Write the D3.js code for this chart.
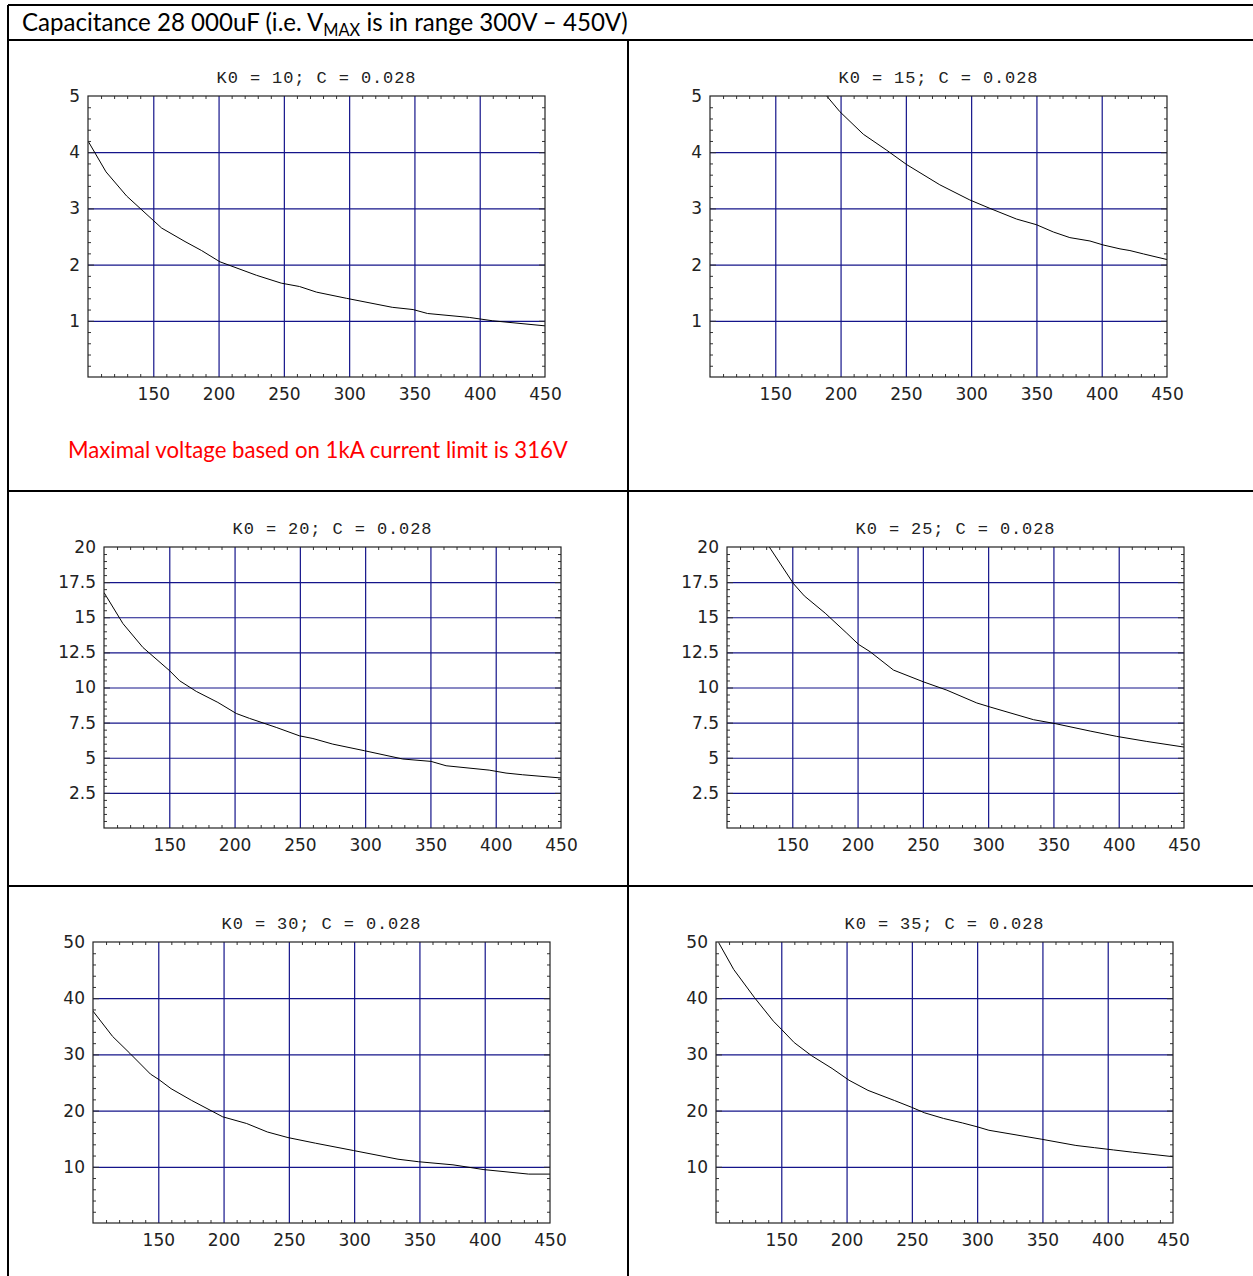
<!DOCTYPE html>
<html>
<head>
<meta charset="utf-8">
<script src="https://cdn.jsdelivr.net/npm/d3@7"></script>
<style>
  body { margin: 0; background: #fff; }
  svg { display: block; }
</style>
</head>
<body>
<svg id="page" width="1253" height="1276"></svg>
<script>
// x axis (voltage) tick labels, shared by every panel
var xTicks = [150, 200, 250, 300, 350, 400, 450];

// y tick labels per range
var yTicks5 = [1, 2, 3, 4, 5];
var yTicks20 = [2.5, 5, 7.5, 10, 12.5, 15, 17.5, 20];
var yTicks50 = [10, 20, 30, 40, 50];

// voltage / value pairs
var v10 = [100, 113.8, 129.6, 156.4, 174.3, 187, 201, 229, 248, 262, 275, 298, 333, 349, 360, 392, 410, 450];
var y10 = [4.2, 3.65, 3.22, 2.65, 2.41, 2.25, 2.05, 1.81, 1.67, 1.61, 1.51, 1.40, 1.24, 1.20, 1.13, 1.06, 1.0, 0.91];

var v15 = [189.4, 199.5, 217.4, 235, 250.6, 276, 299, 314.4, 334.8, 350, 363, 375.6, 391, 401, 414, 421.6, 432, 450];
var y15 = [5.0, 4.72, 4.32, 4.04, 3.78, 3.42, 3.15, 3.0, 2.81, 2.71, 2.58, 2.48, 2.42, 2.35, 2.28, 2.25, 2.19, 2.09];

var v20 = [100, 114.5, 129.8, 150.3, 157.9, 170.7, 187.2, 201.3, 211.5, 231.9, 249.7, 260, 275.2, 299.5, 328.8, 350.5, 362, 395, 407.9, 420.6, 450];
var y20 = [16.76, 14.55, 12.85, 11.19, 10.48, 9.72, 8.94, 8.15, 7.80, 7.16, 6.56, 6.37, 5.97, 5.50, 4.91, 4.74, 4.43, 4.12, 3.91, 3.79, 3.56];

var v25 = [132.4, 151, 159.2, 175.2, 191.8, 200.7, 209.7, 227.5, 250.5, 268.4, 291.3, 301.5, 334.7, 351.3, 378.1, 398.5, 421.5, 450];
var y25 = [20.0, 17.38, 16.52, 15.29, 13.86, 13.07, 12.54, 11.24, 10.40, 9.81, 8.90, 8.61, 7.71, 7.43, 6.90, 6.52, 6.16, 5.76];

var v30 = [100, 115, 128.2, 144, 150.6, 159.8, 175.6, 199.3, 217.7, 233.5, 249.3, 270.4, 299.4, 333.6, 349.4, 375.7, 399.4, 433.7, 450];
var y30 = [37.7, 33.2, 30.2, 26.5, 25.5, 23.9, 21.8, 18.9, 17.7, 16.2, 15.2, 14.2, 12.9, 11.35, 10.9, 10.35, 9.5, 8.7, 8.7];

var v35 = [102, 113.6, 129.5, 144, 150.4, 159.9, 173, 188.9, 201.9, 216.4, 236.6, 249.7, 259.8, 274.3, 288.8, 300.3, 309, 349.5, 375.6, 390, 404.5, 419, 450];
var y35 = [49.9, 45.1, 40.1, 35.9, 34.4, 32.1, 29.8, 27.5, 25.4, 23.6, 21.8, 20.6, 19.6, 18.6, 17.8, 17.1, 16.5, 14.9, 13.8, 13.4, 13.0, 12.6, 11.8];

var titles = ["K0 = 10; C = 0.028", "K0 = 15; C = 0.028", "K0 = 20; C = 0.028",
              "K0 = 25; C = 0.028", "K0 = 30; C = 0.028", "K0 = 35; C = 0.028"];

var headerText = "Capacitance 28 000uF (i.e. V";
var headerSub = "MAX";
var headerRest = " is in range 300V \u2013 450V)";
var noteText = "Maximal voltage based on 1kA current limit is 316V";

var svg = d3.select("#page");
var gridColor = "#14148a";

//table lines
var table = svg.append("g")
    .attr("stroke", "#000")
    .attr("stroke-width", 2);
[[8, 5, 1253, 5], [8, 40, 1253, 40], [8, 491, 1253, 491], [8, 886, 1253, 886],
 [8, 5, 8, 1276], [628, 40, 628, 1276]].forEach(function (l) {
  table.append("line")
      .attr("x1", l[0]).attr("y1", l[1])
      .attr("x2", l[2]).attr("y2", l[3]);
});

//fit a text node to a given width by changing its font size
function fitWidth(sel, target) {
  var w = sel.node().getComputedTextLength();
  var fs = parseFloat(sel.attr("font-size"));
  sel.attr("font-size", fs * target / w);
}

var header = svg.append("text")
    .attr("x", 22)
    .attr("y", 31)
    .attr("font-family", "Lato, 'Open Sans', sans-serif")
    .attr("font-size", 21)
    .attr("fill", "#000");
header.append("tspan").text(headerText);
header.append("tspan").attr("font-size", "0.68em").attr("dy", 5).text(headerSub);
header.append("tspan").attr("dy", -5).text(headerRest);
fitWidth(header, 606);

var note = svg.append("text")
    .attr("x", 68)
    .attr("y", 458)
    .attr("font-family", "Lato, 'Open Sans', sans-serif")
    .attr("font-size", 20)
    .attr("fill", "#ff0000")
    .text(noteText);
fitWidth(note, 500);

// panel layout: left edge of plot, top of plot, y max, y ticks, minor step
var panels = [
  { left: 88,  top: 96,  ymax: 5,  yTicks: yTicks5,  minor: 0.2, v: v10, y: y10 },
  { left: 710, top: 96,  ymax: 5,  yTicks: yTicks5,  minor: 0.2, v: v15, y: y15 },
  { left: 104, top: 547, ymax: 20, yTicks: yTicks20, minor: 0.5, v: v20, y: y20 },
  { left: 727, top: 547, ymax: 20, yTicks: yTicks20, minor: 0.5, v: v25, y: y25 },
  { left: 93,  top: 942, ymax: 50, yTicks: yTicks50, minor: 2,   v: v30, y: y30 },
  { left: 716, top: 942, ymax: 50, yTicks: yTicks50, minor: 2,   v: v35, y: y35 }
];

var width = 457, height = 281;

panels.forEach(function (p, i) {
  var g = svg.append("g")
      .attr("transform", "translate(" + p.left + "," + p.top + ")");

  var x = d3.scaleLinear().domain([100, 450]).range([0, width]);
  var y = d3.scaleLinear().domain([0, p.ymax]).range([height, 0]);

  var xMinor = d3.range(110, 450, 10).filter(function (d) { return d % 50 !== 0; });
  var yMinor = d3.range(p.minor, p.ymax, p.minor).filter(function (d) {
    return p.yTicks.every(function (t) { return Math.abs(t - d) > 1e-6; });
  });
  var xMajor = xTicks.filter(function (d) { return d < 450; });
  var yMajor = p.yTicks.filter(function (d) { return d < p.ymax; });

  //grid
  g.append("g")
      .attr("class", "grid")
      .attr("transform", "translate(0," + height + ")")
      .call(d3.axisBottom(x).tickValues(xMajor).tickSize(-height).tickFormat(""));
  g.append("g")
      .attr("class", "grid")
      .call(d3.axisLeft(y).tickValues(yMajor).tickSize(-width).tickFormat(""));
  g.selectAll(".grid .domain").remove();
  g.selectAll(".grid line")
      .attr("stroke", gridColor)
      .attr("stroke-width", 1.2);

  //curve
  var clipId = "clip" + i;
  g.append("clipPath").attr("id", clipId)
    .append("rect").attr("width", width).attr("height", height);

  var pts = p.v.map(function (d, k) { return [d, p.y[k]]; });
  var line = d3.line()
      .x(function (d) { return x(d[0]); })
      .y(function (d) { return y(d[1]); });
  g.append("path")
      .datum(pts)
      .attr("clip-path", "url(#" + clipId + ")")
      .attr("fill", "none")
      .attr("stroke", "#000")
      .attr("stroke-width", 1)
      .attr("d", line);

  //frame ticks pointing inward on all four sides
  var tickG = g.append("g").attr("class", "frameticks");
  tickG.append("g").attr("transform", "translate(0," + height + ")")
      .call(d3.axisBottom(x).tickValues(xMinor).tickSize(-3).tickFormat(""));
  tickG.append("g")
      .call(d3.axisTop(x).tickValues(xMinor).tickSize(-3).tickFormat(""));
  tickG.append("g")
      .call(d3.axisLeft(y).tickValues(yMinor).tickSize(-3).tickFormat(""));
  tickG.append("g").attr("transform", "translate(" + width + ",0)")
      .call(d3.axisRight(y).tickValues(yMinor).tickSize(-3).tickFormat(""));
  tickG.append("g")
      .call(d3.axisLeft(y).tickValues(yMajor).tickSize(-6).tickFormat(""));
  tickG.append("g").attr("transform", "translate(" + width + ",0)")
      .call(d3.axisRight(y).tickValues(yMajor).tickSize(-6).tickFormat(""));
  tickG.selectAll(".domain").remove();
  tickG.selectAll("line").attr("stroke", "#333").attr("stroke-width", 1);

  //frame
  g.append("rect")
      .attr("width", width)
      .attr("height", height)
      .attr("fill", "none")
      .attr("stroke", "#222")
      .attr("stroke-width", 1.2);

  //labels
  var xa = g.append("g")
      .attr("transform", "translate(0," + height + ")")
      .call(d3.axisBottom(x).tickValues(xTicks).tickSize(0).tickPadding(11));
  var ya = g.append("g")
      .call(d3.axisLeft(y).tickValues(p.yTicks).tickSize(0).tickPadding(8)
        .tickFormat(function (d) { return String(d); }));
  [xa, ya].forEach(function (a) {
    a.select(".domain").remove();
    a.selectAll("text")
        .attr("font-family", "'DejaVu Sans', sans-serif")
        .attr("font-size", 17)
        .attr("fill", "#222");
  });

  //title
  g.append("text")
      .attr("x", width / 2)
      .attr("y", -13)
      .attr("text-anchor", "middle")
      .attr("font-family", "'Liberation Mono', monospace")
      .attr("font-size", 17)
      .attr("letter-spacing", "0.9px")
      .attr("fill", "#222")
      .attr("xml:space", "preserve")
      .text(titles[i]);
});
</script>
</body>
</html>
